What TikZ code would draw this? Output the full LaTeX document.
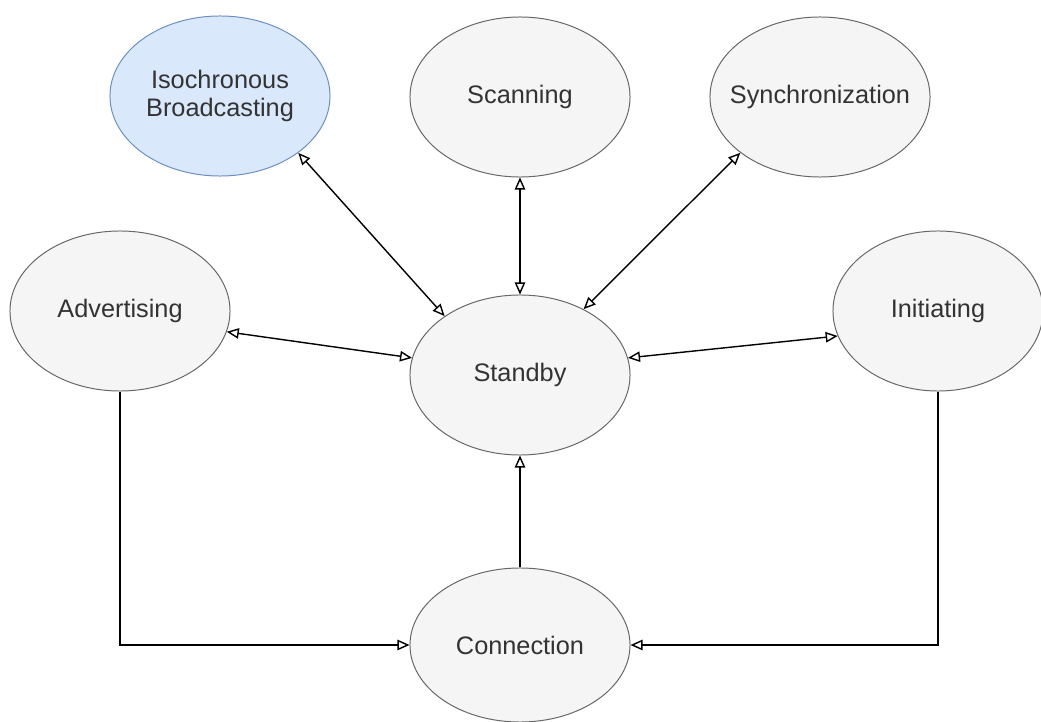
\documentclass[tikz,border=0pt]{standalone}
\usepackage{fontspec}
\setmainfont{Liberation Sans}
\usepackage{xcolor}
\usepackage{tikz}
\usetikzlibrary{arrows.meta,positioning,shapes.geometric,calc}
\definecolor{statefill}{HTML}{F5F5F5}
\definecolor{stateline}{HTML}{666666}
\definecolor{bluefill}{HTML}{DAE8FC}
\definecolor{blueline}{HTML}{6C8EBF}
\definecolor{textgray}{HTML}{333333}

\begin{document}
\begin{tikzpicture}[x=0.025cm, y=-0.025cm,
    every node/.style={font=\fontsize{18}{19.5}\selectfont, text=textgray},
    state/.style={ellipse, draw=stateline, fill=statefill, line width=0.7pt,
      minimum width=5.5cm, minimum height=4cm, inner sep=0pt, align=center},
    link/.style={line width=1pt, black},
    tip/.style={-{Triangle[open,length=3mm,width=2.6mm]}},
    tips/.style={{Triangle[open,length=3mm,width=2.6mm]}-{Triangle[open,length=3mm,width=2.6mm]}}]
    \useasboundingbox (0,0) rectangle (1041,722);

    % top row
    \node[state, fill=bluefill, draw=blueline] (iso) at (220,96) {Isochronous\\Broadcasting};
    \node[state] (scan) at (520,97) {Scanning};
    \node[state] (sync) at (820,97) {\makebox[3cm]{Synchronization}};

    % middle row
    \node[state] (adv) at (120,311) {Advertising};
    \node[state] (standby) at (520,375) {Standby};
    \node[state, minimum width=5.25cm] (init) at (938,311) {Initiating};

    % bottom
    \node[state, minimum height=3.85cm] (conn) at (520,645) {Connection};

    % links to standby
    \draw[link,tips] (iso.-36) -- (standby.142);
    \draw[link,tips] (scan.south) -- (standby.north);
    \draw[link,tips] (sync.-145) -- (standby.46);
    \draw[link,tips] (adv.-11) -- (standby.171);
    \draw[link,tips] (standby.9) -- (init.-166);
    \draw[link,tip] (conn.north) -- (standby.south);

    % into connection
    \draw[link,tip] (adv.south) |- (conn.west);
    \draw[link,tip] (init.south) |- (conn.east);
\end{tikzpicture}
\end{document}
